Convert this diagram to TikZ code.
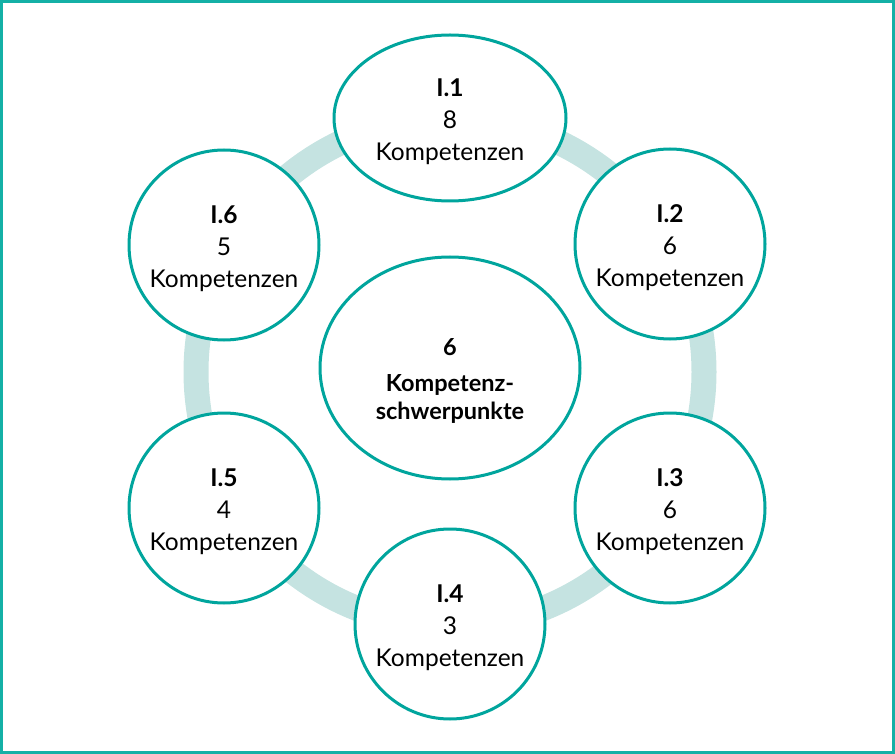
\documentclass[tikz,border=0pt]{standalone}
\usepackage{fontspec}
\setmainfont{Lato}
\usetikzlibrary{shapes.geometric}
\definecolor{tealline}{RGB}{0,165,157}
\definecolor{framec}{RGB}{20,176,166}
\definecolor{ringc}{RGB}{197,227,225}
\newcommand{\padtop}[1]{\rule{0pt}{#1}}
\tikzset{
  bubble/.style={circle, draw=tealline, line width=3pt, fill=white,
    minimum size=190pt, inner sep=0pt, align=center,
    font=\fontsize{24.5}{32}\selectfont},
  topoval/.style={ellipse, draw=tealline, line width=3pt, fill=white,
    minimum width=232pt, minimum height=166pt, inner sep=0pt, align=center,
    font=\fontsize{24.5}{32}\selectfont},
  hub/.style={ellipse, draw=tealline, line width=3pt, fill=white,
    minimum width=260pt, minimum height=222pt, inner sep=0pt, align=center,
    font=\fontsize{23.5}{28}\selectfont\bfseries},
  ring/.style={draw=ringc, line width=25pt}
}
\begin{document}
\begin{tikzpicture}[x=1pt,y=-1pt]
\useasboundingbox (0,0) rectangle (895,754);
\draw[framec, line width=3pt] (1.5,1.5) rectangle (893.5,752.5);
\coordinate (ringcenter) at (450,372);
\draw[ring] (ringcenter) circle[radius=254];
\node[hub] (hubnode) at (450,368) {\padtop{43pt}6\\[8pt]Kompetenz-\\schwerpunkte};
\node[topoval] (i1) at (450,118) {\padtop{26pt}\textbf{I.1}\\8\\Kompetenzen};
\node[bubble] (i2) at (670,244) {\padtop{26pt}\textbf{I.2}\\6\\Kompetenzen};
\node[bubble] (i3) at (670,508) {\padtop{26pt}\textbf{I.3}\\6\\Kompetenzen};
\node[bubble] (i4) at (450,624) {\padtop{26pt}\textbf{I.4}\\3\\Kompetenzen};
\node[bubble] (i5) at (224,508) {\padtop{26pt}\textbf{I.5}\\4\\Kompetenzen};
\node[bubble] (i6) at (224,245) {\padtop{26pt}\textbf{I.6}\\5\\Kompetenzen};
\end{tikzpicture}
\end{document}
